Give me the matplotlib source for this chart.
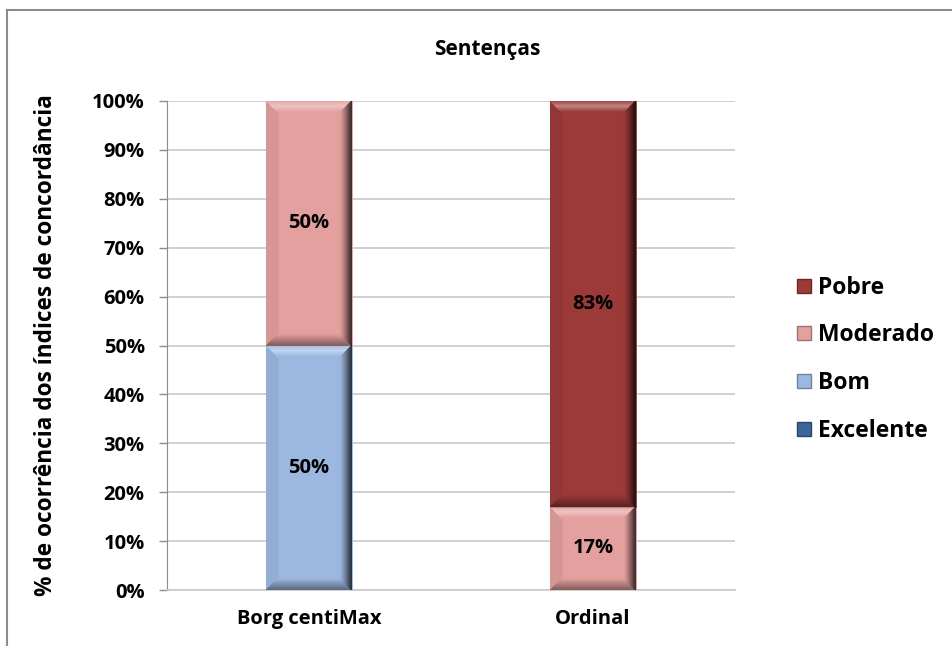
import matplotlib
matplotlib.use("Agg")
import matplotlib.pyplot as plt
from matplotlib.patches import Polygon
from matplotlib.lines import Line2D
import matplotlib.colors as mcolors
import numpy as np

plt.rcParams['font.family'] = ['Open Sans', 'DejaVu Sans']
plt.rcParams['font.weight'] = 'bold'

categories = ["Borg centiMax", "Ordinal"]
series_names = ["Excelente", "Bom", "Moderado", "Pobre"]
excelente = [0, 0]
bom = [50, 0]
moderado = [50, 17]
pobre = [0, 83]
series_values = [excelente, bom, moderado, pobre]
series_colors = ["#3C6699", "#9DB8E0", "#E4A09F", "#9B3A38"]
y_ticks = [0, 10, 20, 30, 40, 50, 60, 70, 80, 90, 100]
y_tick_labels = [f"{t}%" for t in y_ticks]

fig = plt.figure(figsize=(9.52, 6.46), dpi=100)
ax = fig.add_axes([167/952, 1-590/646, (735-167)/952, (590-101)/646])

x = np.arange(len(categories))
bar_width = 0.30
ax.set_xlim(-0.5, len(categories) - 0.5)
ax.set_ylim(0, 100)

# gridlines and axes styling
ax.set_yticks(y_ticks)
ax.set_yticklabels(y_tick_labels, fontsize=14.5, fontweight='bold')
ax.yaxis.grid(True, color="#C8C8C8", linewidth=1.2)
ax.set_axisbelow(True)
ax.set_xticks(x)
ax.set_xticklabels(categories, fontsize=14.5, fontweight='bold')
ax.tick_params(axis='x', length=0, pad=14)
ax.tick_params(axis='y', length=6, color="#8C8C8C", width=1, pad=10)
for side in ["top", "right"]:
    ax.spines[side].set_visible(False)
ax.spines["left"].set_color("#8C8C8C")
ax.spines["bottom"].set_color("#C8C8C8")
ax.spines["bottom"].set_linewidth(1.2)


def mix(c, other, t):
    a = np.array(mcolors.to_rgb(c))
    b = np.array(mcolors.to_rgb(other))
    return tuple(np.clip(a * (1 - t) + b * t, 0, 1))


def bevel(ax, x0, x1, y0, y1, color, b=12):
    """Draw a bevelled face over the bar rectangle given in data coords."""
    tr = ax.transData
    (px0, py0), (px1, py1) = tr.transform([(x0, y0), (x1, y1)])
    inv = tr.inverted()
    bb = min(b, (py1 - py0) / 2.0, (px1 - px0) / 2.0)

    def poly(pts, fc, z=3):
        d = inv.transform(pts)
        ax.add_patch(Polygon(d, closed=True, facecolor=fc, edgecolor=fc,
                             linewidth=0.6, zorder=z))

    poly([(px0, py0), (px1, py0), (px1, py1), (px0, py1)], color)
    n = 12
    # left edge slight shade
    poly([(px0, py0), (px0 + bb, py0 + bb), (px0 + bb, py1 - bb), (px0, py1)],
         mix(color, "black", 0.06), 4)
    # top highlight band
    for i in range(n):
        f0, f1 = i / n, (i + 1) / n
        m = (f0 + f1) / 2
        t = 0.38 * max(0.0, 1 - abs(m - 0.45) / 0.5)
        poly([(px0 + bb * f0, py1 - bb * f0), (px1 - bb * f0, py1 - bb * f0),
              (px1 - bb * f1, py1 - bb * f1), (px0 + bb * f1, py1 - bb * f1)],
             mix(color, "white", t), 4)
    # bottom shade
    for i in range(n):
        f0, f1 = i / n, (i + 1) / n
        t = 0.45 * (1 - (f0 + f1) / 2)
        poly([(px0 + bb * f0, py0 + bb * f0), (px1 - bb * f0, py0 + bb * f0),
              (px1 - bb * f1, py0 + bb * f1), (px0 + bb * f1, py0 + bb * f1)],
             mix(color, "black", t), 4)
    # right dark edge gradient
    for i in range(n):
        f0, f1 = i / n, (i + 1) / n
        t = 0.8 * (1 - (f0 + f1) / 2) ** 1.2
        poly([(px1 - bb * f0, py0 + bb * f0), (px1 - bb * f0, py1 - bb * f0),
              (px1 - bb * f1, py1 - bb * f1), (px1 - bb * f1, py0 + bb * f1)],
             mix(color, "black", t), 5)


fig.canvas.draw()
bottoms = np.zeros(len(categories))
for name, vals, col in zip(series_names, series_values, series_colors):
    vals = np.array(vals, dtype=float)
    ax.bar(x, vals, bar_width, bottom=bottoms, color=col, label=name,
           zorder=2, linewidth=0)
    for xi, v, b0 in zip(x, vals, bottoms):
        if v > 0:
            bevel(ax, xi - bar_width / 2, xi + bar_width / 2, b0, b0 + v, col)
            ax.text(xi, b0 + v / 2, f"{v:.0f}%", ha='center', va='center',
                    fontsize=14.5, fontweight='bold', color='black', zorder=6)
    bottoms = bottoms + vals

ax.set_ylabel("% de ocorrência dos índices de concordância", fontsize=16.3,
              fontweight='bold')
ax.yaxis.set_label_coords(-0.192, 0.5)

fig.text(0.512, 0.923, "Sentenças", ha='center', va='center', fontsize=15,
         fontweight='bold')

# legend (reverse order)
handles = [Line2D([0], [0], marker='s', linestyle='none', markersize=10.5,
                  markerfacecolor=c,
                  markeredgecolor=mcolors.to_hex(mix(c, 'black', 0.3)))
           for c in series_colors][::-1]
fig.legend(handles, series_names[::-1], loc='center left',
           bbox_to_anchor=(0.813, 0.444), frameon=False,
           prop={'weight': 'bold', 'size': 16.5}, handletextpad=0.2,
           labelspacing=1.03, handlelength=0.8)

# outer chart frame
fig.add_artist(Line2D([7/952, 7/952], [0, 1 - 10/646], transform=fig.transFigure,
                      color="#8C8C8C", linewidth=1.5))
fig.add_artist(Line2D([7/952, 1], [1 - 10/646, 1 - 10/646], transform=fig.transFigure,
                      color="#8C8C8C", linewidth=1.5))

fig.savefig("out.png", dpi=100)
